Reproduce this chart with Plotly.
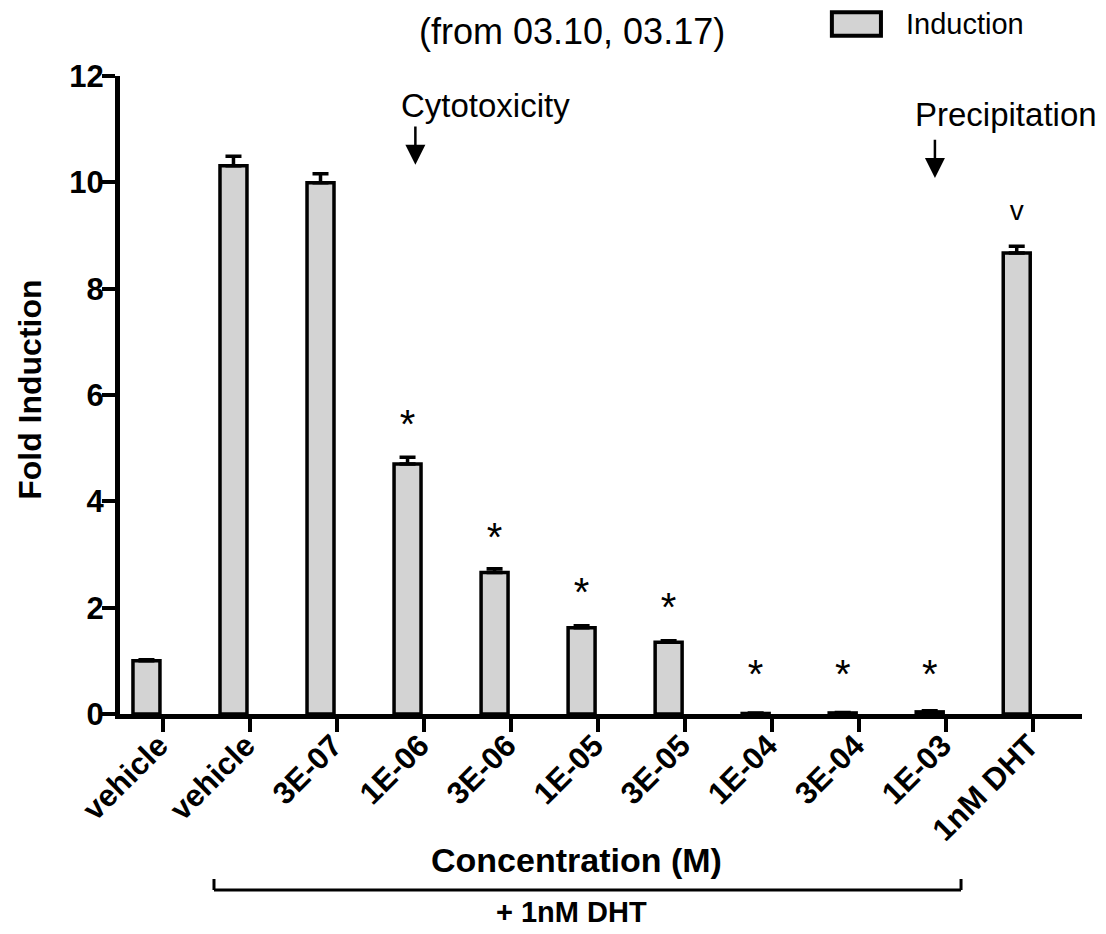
import plotly.graph_objects as go

# Data
labels = ["vehicle", "vehicle", "3E-07", "1E-06", "3E-06", "1E-05",
          "3E-05", "1E-04", "3E-04", "1E-03", "1nM DHT"]
fold = [1.0, 10.31, 9.99, 4.70, 2.66, 1.62, 1.35, 0.01, 0.02, 0.04, 8.67]
err = [0.02, 0.18, 0.17, 0.13, 0.07, 0.04, 0.03, 0.01, 0.01, 0.02, 0.13]
marks = ["", "", "", "*", "*", "*", "*", "*", "*", "*", "v"]
mark_y = [None, None, None, 5.38, 3.25, 2.22, 1.94, 0.68, 0.68, 0.68, 9.42]

font = "Arial, Liberation Sans, sans-serif"
offset = -0.19  # bars sit left of their tick
xpos = list(range(len(labels)))
barx = [i + offset for i in xpos]

fig = go.Figure()
fig.add_trace(go.Bar(x=barx, y=fold, width=0.31, name="Induction",
  marker=dict(color="#d3d3d3", line=dict(color="black", width=3.5)),
  error_y=dict(type="data", symmetric=False, array=err,
               arrayminus=[0] * len(err), color="black", thickness=3.5, width=8),
  showlegend=False))

# significance marks above bars
mx = [barx[i] for i in range(len(marks)) if marks[i]]
my = [mark_y[i] for i in range(len(marks)) if marks[i]]
mt = [m for m in marks if m]
msize = [28 if m == "v" else 40 for m in mt]
fig.add_trace(go.Scatter(x=mx, y=my, mode="text", text=mt,
  textfont=dict(family=font, size=msize, color="black"), showlegend=False))

# page body has an 8px margin, so the figure is 8px smaller than the window
fig.update_layout(
  width=1098, height=926, plot_bgcolor="white", paper_bgcolor="white",
  margin=dict(l=112, r=24, t=68, b=220),
  font=dict(family=font, color="black"),
)
fig.update_xaxes(range=[-0.494, 10.56], tickmode="array", tickvals=xpos,
  ticktext=labels, tickangle=-45, ticks="outside", ticklen=13, tickwidth=4,
  tickcolor="black", showline=True, linewidth=5, linecolor="black",
  showgrid=False, zeroline=False, ticklabelstandoff=-17, ticklabelshift=-4,
  tickfont=dict(family=font, size=31, color="black", weight="bold"))
fig.update_yaxes(range=[0, 12], tickvals=[0, 2, 4, 6, 8, 10, 12],
  ticks="outside", ticklen=13, tickwidth=4, tickcolor="black",
  showline=True, linewidth=5, linecolor="black", showgrid=False,
  zeroline=False, ticklabelstandoff=-8,
  tickfont=dict(family=font, size=31, color="black", weight="bold"))

def note(text, x, y, size, **kw):
  fig.add_annotation(text=text, xref="paper", yref="paper", x=x, y=y,
    xanchor=kw.pop("xanchor", "center"), yanchor="middle", showarrow=False,
    font=dict(size=size), **kw)

# title
note("(from 03.10, 03.17)", 0.47, 1.069, 36)

# axis titles and bracket text
note("<b>Fold Induction</b>", -0.0936, 0.508, 32, textangle=-90)
note("<b>Concentration (M)</b>", 0.475, -0.2288, 34)
note("<b>+ 1nM DHT</b>", 0.469, -0.3103, 29)

# bracket under the DHT-treated groups
fig.add_shape(type="line", xref="x", yref="paper", x0=0.586, x1=9.17,
  y0=-0.2759, y1=-0.2759, line=dict(color="black", width=3))
for bx in [0.586, 9.17]:
  fig.add_shape(type="line", xref="x", yref="paper", x0=bx, x1=bx,
    y0=-0.2759, y1=-0.2586, line=dict(color="black", width=3))

# arrows with notes
fig.add_annotation(x=2.9, y=10.33, ax=2.9, ay=11.08, axref="x", ayref="y",
  showarrow=True, arrowhead=2, arrowsize=1.6, arrowwidth=2.5, arrowcolor="black", text="")
fig.add_annotation(x=3.71, y=11.45, text="Cytotoxicity", showarrow=False,
  xanchor="center", yanchor="middle", font=dict(size=33))
fig.add_annotation(x=8.87, y=10.08, ax=8.87, ay=10.83, axref="x", ayref="y",
  showarrow=True, arrowhead=2, arrowsize=1.6, arrowwidth=2.5, arrowcolor="black", text="")
fig.add_annotation(x=9.69, y=11.27, text="Precipitation", showarrow=False,
  xanchor="center", yanchor="middle", font=dict(size=33))

# legend drawn as a box and label
fig.add_shape(type="rect", xref="paper", yref="paper", x0=0.740, x1=0.791,
  y0=1.063, y1=1.100, line=dict(color="black", width=4), fillcolor="#d3d3d3")
note("Induction", 0.815, 1.081, 29, xanchor="left")

fig.write_html("out.html")
